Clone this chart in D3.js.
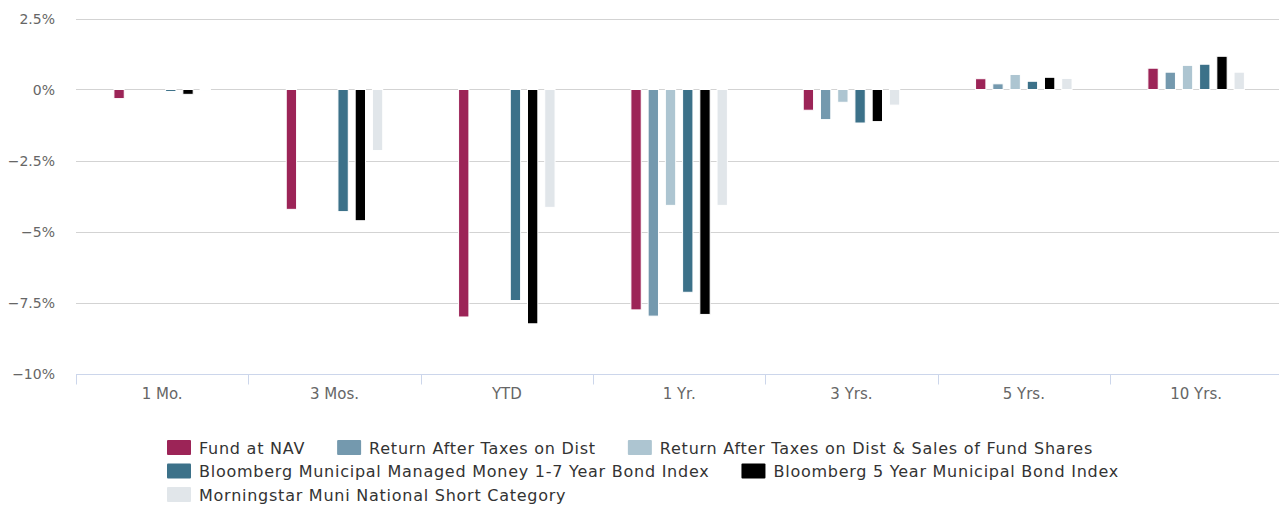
<!DOCTYPE html>
<html>
<head>
<meta charset="utf-8">
<script src="https://cdn.jsdelivr.net/npm/d3@7"></script>
<style>
  html, body { margin: 0; padding: 0; background: #fff; }
  svg { display: block; font-family: "DejaVu Sans", Verdana, sans-serif; }
</style>
</head>
<body>
<svg id="chart" width="1279" height="506"></svg>
<script>
// ---- data ----
const categories = ["1 Mo.", "3 Mos.", "YTD", "1 Yr.", "3 Yrs.", "5 Yrs.", "10 Yrs."];
const seriesNames = [
  "Fund at NAV",
  "Return After Taxes on Dist",
  "Return After Taxes on Dist & Sales of Fund Shares",
  "Bloomberg Municipal Managed Money 1-7 Year Bond Index",
  "Bloomberg 5 Year Municipal Bond Index",
  "Morningstar Muni National Short Category"
];
const seriesColors = ["#9c2457", "#7499ae", "#adc5d1", "#3c7189", "#000000", "#e1e6ea"];
const fundAtNav        = [-0.32, -4.22, -8.01, -7.76, -0.73, 0.38, 0.75];
const afterTaxDist     = [null, null, null, -7.98, -1.06, 0.20, 0.61];
const afterTaxSales    = [null, null, null, -4.08, -0.45, 0.53, 0.85];
const bbgManagedMoney  = [-0.07, -4.30, -7.43, -7.14, -1.18, 0.29, 0.89];
const bbg5Year         = [-0.17, -4.62, -8.25, -7.92, -1.13, 0.43, 1.17];
const morningstarShort = [-0.02, -2.15, -4.15, -4.08, -0.55, 0.39, 0.61];
const seriesValues = [fundAtNav, afterTaxDist, afterTaxSales, bbgManagedMoney, bbg5Year, morningstarShort];
const yTicks = [2.5, 0, -2.5, -5, -7.5, -10];
const yTickLabels = ["2.5%", "0%", "\u22122.5%", "\u22125%", "\u22127.5%", "\u221210%"];

// ---- layout ----
const svg = d3.select("#chart");
const plot = { left: 76, right: 1282.3, top: 18.5, bottom: 373.5 };

const x0 = d3.scaleBand().domain(categories).range([plot.left, plot.right]).paddingInner(0).paddingOuter(0);
const gw = x0.bandwidth();
const x1 = d3.scaleBand().domain(d3.range(seriesNames.length))
  .range([gw * 0.2, gw * 0.8]).paddingInner(0.4).paddingOuter(0.2);
const y = d3.scaleLinear().domain([-10, 2.5]).range([plot.bottom, plot.top]);

// gridlines
svg.append("g").selectAll("line").data(yTicks).join("line")
  .attr("x1", plot.left).attr("x2", 1279)
  .attr("y1", d => Math.round(y(d)) + 0.5).attr("y2", d => Math.round(y(d)) + 0.5)
  .attr("stroke", "#d3d3d3").attr("stroke-width", 1);

// y labels
svg.append("g").selectAll("text").data(yTicks).join("text")
  .attr("x", 55).attr("y", d => y(d) + 5)
  .attr("text-anchor", "end").attr("font-size", 14).attr("fill", "#666")
  .text((d, i) => yTickLabels[i]);

// x axis line and ticks
const xAxisY = 374.5;
svg.append("line").attr("x1", plot.left).attr("x2", 1279)
  .attr("y1", xAxisY).attr("y2", xAxisY).attr("stroke", "#ccd6eb");
const tickXs = categories.map(c => x0(c)).concat([plot.right]);
svg.append("g").selectAll("line").data(tickXs).join("line")
  .attr("x1", d => Math.round(d) + 0.5).attr("x2", d => Math.round(d) + 0.5)
  .attr("y1", xAxisY).attr("y2", xAxisY + 10).attr("stroke", "#ccd6eb");
svg.append("g").selectAll("text").data(categories).join("text")
  .attr("x", d => x0(d) + gw / 2).attr("y", 399)
  .attr("text-anchor", "middle").attr("font-size", 15).attr("fill", "#666")
  .text(d => d);

// bars
const barData = [];
categories.forEach((c, ci) => {
  seriesValues.forEach((vals, si) => {
    const v = vals[ci];
    if (v !== null && v !== undefined) barData.push({ c, si, v });
  });
});
svg.append("g").selectAll("rect").data(barData).join("rect")
  .attr("x", d => x0(d.c) + x1(d.si))
  .attr("width", x1.bandwidth())
  .attr("y", d => Math.min(y(0), y(d.v)))
  .attr("height", d => Math.max(0.5, Math.abs(y(d.v) - y(0))))
  .attr("fill", d => seriesColors[d.si])
  .attr("stroke", "#ffffff").attr("stroke-width", 1);

// legend (flow layout, centred)
const legend = svg.append("g");
const swW = 24, swH = 15, textOff = 32, itemGap = 32, rowH = 23.5, maxRow = 990;
const items = seriesNames.map((name, i) => {
  const g = legend.append("g");
  g.append("rect").attr("width", swW).attr("height", swH).attr("rx", 1)
    .attr("fill", seriesColors[i]);
  const t = g.append("text").attr("x", textOff).attr("y", 13.5)
    .attr("font-size", 16).attr("letter-spacing", "0.75px").attr("fill", "#333").text(name);
  const w = textOff + t.node().getComputedTextLength();
  return { g, w };
});
const rows = [];
let cur = [], curW = 0;
items.forEach(it => {
  const need = cur.length ? curW + itemGap + it.w : it.w;
  if (cur.length && need > maxRow) { rows.push({ items: cur, w: curW }); cur = [it]; curW = it.w; }
  else { cur.push(it); curW = need; }
});
rows.push({ items: cur, w: curW });
const boxW = d3.max(rows, r => r.w);
const startX = Math.round(643 - boxW / 2);
rows.forEach((r, ri) => {
  let xx = startX;
  r.items.forEach(it => {
    it.g.attr("transform", `translate(${xx},${440 + ri * rowH})`);
    xx += it.w + itemGap;
  });
});
</script>
</body>
</html>
